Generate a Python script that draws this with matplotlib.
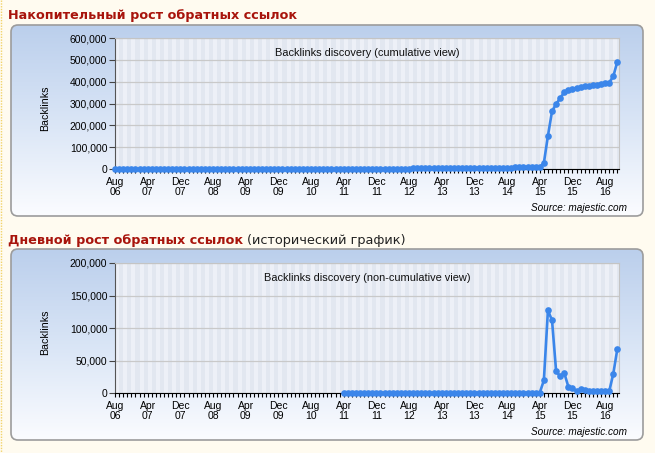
import numpy as np
import matplotlib
matplotlib.use("Agg")
import matplotlib.pyplot as plt
from matplotlib.patches import FancyBboxPatch
from matplotlib.colors import LinearSegmentedColormap

# months counted from Aug 2006 (index 0) to Nov 2016 (index 123)
tick_months = [0, 8, 16, 24, 32, 40, 48, 56, 64, 72, 80, 88, 96, 104, 112, 120]
tick_labels = ["Aug\n06", "Apr\n07", "Dec\n07", "Aug\n08", "Apr\n09", "Dec\n09",
               "Aug\n10", "Apr\n11", "Dec\n11", "Aug\n12", "Apr\n13", "Dec\n13",
               "Aug\n14", "Apr\n15", "Dec\n15", "Aug\n16"]

# cumulative backlinks, one value per month
cumulative = ([0] * 56 +
              [120, 210, 360, 470, 600, 760, 860, 1000, 1120,
               1270, 1400, 1570, 1680, 1820, 1980, 2100, 2280, 2430, 2560, 2730, 2870,
               3030, 3180, 3370, 3510, 3680, 3810, 3990, 4150, 4350, 4500, 4670, 4860,
               5040, 5250, 5420, 5620, 5810, 6040, 6290, 6510, 6750, 6960, 7660, 7920,
               8170, 8450, 8750, 9100,
               27000, 152000, 264000, 298000, 324000, 352000, 360000, 366000,
               370000, 374000, 378000, 381000, 384000, 387000, 390000, 393000,
               396000, 424000, 492000])

# new backlinks per month (data starts Apr 2011)
monthly = ([None] * 56 +
           [120, 90, 150, 110, 130, 160, 100, 140, 120,
            150, 130, 170, 110, 140, 160, 120, 180, 150, 130, 170, 140,
            160, 150, 190, 140, 170, 130, 180, 160, 200, 150, 170, 190,
            180, 210, 170, 200, 190, 230, 250, 220, 240, 210, 700, 260,
            250, 280, 300, 350,
            19300, 127000, 112000, 33700, 25500, 30700, 9700, 7700, 2500, 5500,
            4000, 3800, 3500, 3300, 3000, 2800, 2500, 29600, 68000])

W, H = 655, 453
fig = plt.figure(figsize=(W / 100, H / 100), dpi=100)
fig.patch.set_facecolor("#fffbf0")

bg = fig.add_axes([0, 0, 1, 1], zorder=-1)
bg.set_xlim(0, W)
bg.set_ylim(H, 0)
bg.axis("off")
bg.plot([0.5, 0.5], [0, H], color="#f2d36b", lw=1, ls=(0, (1, 1)))

grad = LinearSegmentedColormap.from_list("panel", ["#bbcfec", "#d9e5f6", "#fbfcff"])
for top, bottom in [(25, 216), (249, 440)]:
    box = FancyBboxPatch((11, top), 632, bottom - top,
                         boxstyle="round,pad=0,rounding_size=7",
                         facecolor="none", edgecolor="#9c9c9c", lw=1.2)
    bg.add_patch(box)
    img = bg.imshow(np.linspace(0, 1, 256).reshape(-1, 1), cmap=grad, aspect="auto",
                    extent=(11, 643, bottom, top), zorder=0)
    img.set_clip_path(box)

title_red = "#a8140c"
t1 = fig.text(8 / W, 1 - 15 / H, "Накопительный рост обратных ссылок", color=title_red,
              fontsize=9.2, fontweight="bold", va="center")
t2 = fig.text(8 / W, 1 - 240 / H, "Дневной рост обратных ссылок", color=title_red,
              fontsize=9.2, fontweight="bold", va="center")
fig.canvas.draw()
bb = t2.get_window_extent()
fig.text(bb.x1 / W + 4 / W, 1 - 240 / H, "(исторический график)", color="#222222",
         fontsize=9.3, va="center")

line_color = "#3b86ea"
tick_font = dict(family="Liberation Sans", size=7.5)


def make_panel(y_top, y_bottom, values, ymax, ystep, subtitle, ylabel_y):
    ax = fig.add_axes([115 / W, 1 - y_bottom / H, 504 / W, (y_bottom - y_top) / H])
    ax.set_xlim(0, 123.4)
    ax.set_ylim(0, ymax)
    ax.set_facecolor("#e2e7f0")
    for m in range(0, 124, 2):
        ax.axvspan(m, m + 1, color="#edf0f7", lw=0, zorder=0)
    ax.set_yticks(np.arange(0, ymax + 1, ystep))
    ax.set_yticklabels([f"{v:,}" for v in np.arange(0, ymax + 1, ystep)], **tick_font)
    ax.set_xticks(tick_months)
    ax.set_xticklabels(tick_labels, linespacing=1.0, **tick_font)
    ax.set_xticks(range(124), minor=True)
    ax.grid(axis="y", color="#c9c9c9", lw=0.9, zorder=1)
    ax.set_axisbelow(True)
    ax.tick_params(axis="x", which="both", length=3, width=0.8, color="black", pad=2.5)
    ax.tick_params(axis="y", length=4, width=0.8, color="#444444", pad=1.5)
    for side in ["top", "right"]:
        ax.spines[side].set_color("#c4c4c4")
    ax.spines["left"].set_color("#555555")
    ax.spines["bottom"].set_color("black")
    xs = np.arange(len(values))
    ys = np.array([np.nan if v is None else v for v in values], dtype=float)
    ax.plot(xs, ys, color=line_color, lw=1.9, marker="o", ms=4.8,
            markeredgewidth=0, clip_on=False, zorder=3)
    ax.text(0.5, 0.885, subtitle, transform=ax.transAxes, ha="center", va="center",
            family="Liberation Sans", size=7.9, color="#111111")
    fig.text(45 / W, 1 - ylabel_y / H, "Backlinks", rotation=90, ha="center", va="center",
             family="Liberation Sans", size=7.7)
    fig.text(627 / W, 1 - (y_bottom + 39) / H, "Source: majestic.com", ha="right",
             va="center", family="Liberation Sans", style="italic", size=7.2)
    return ax


make_panel(38, 169, cumulative, 600000, 100000,
           "Backlinks discovery (cumulative view)", 108)
make_panel(263, 393, monthly, 200000, 50000,
           "Backlinks discovery (non-cumulative view)", 332)

fig.savefig("out.png", dpi=100, facecolor=fig.get_facecolor())
